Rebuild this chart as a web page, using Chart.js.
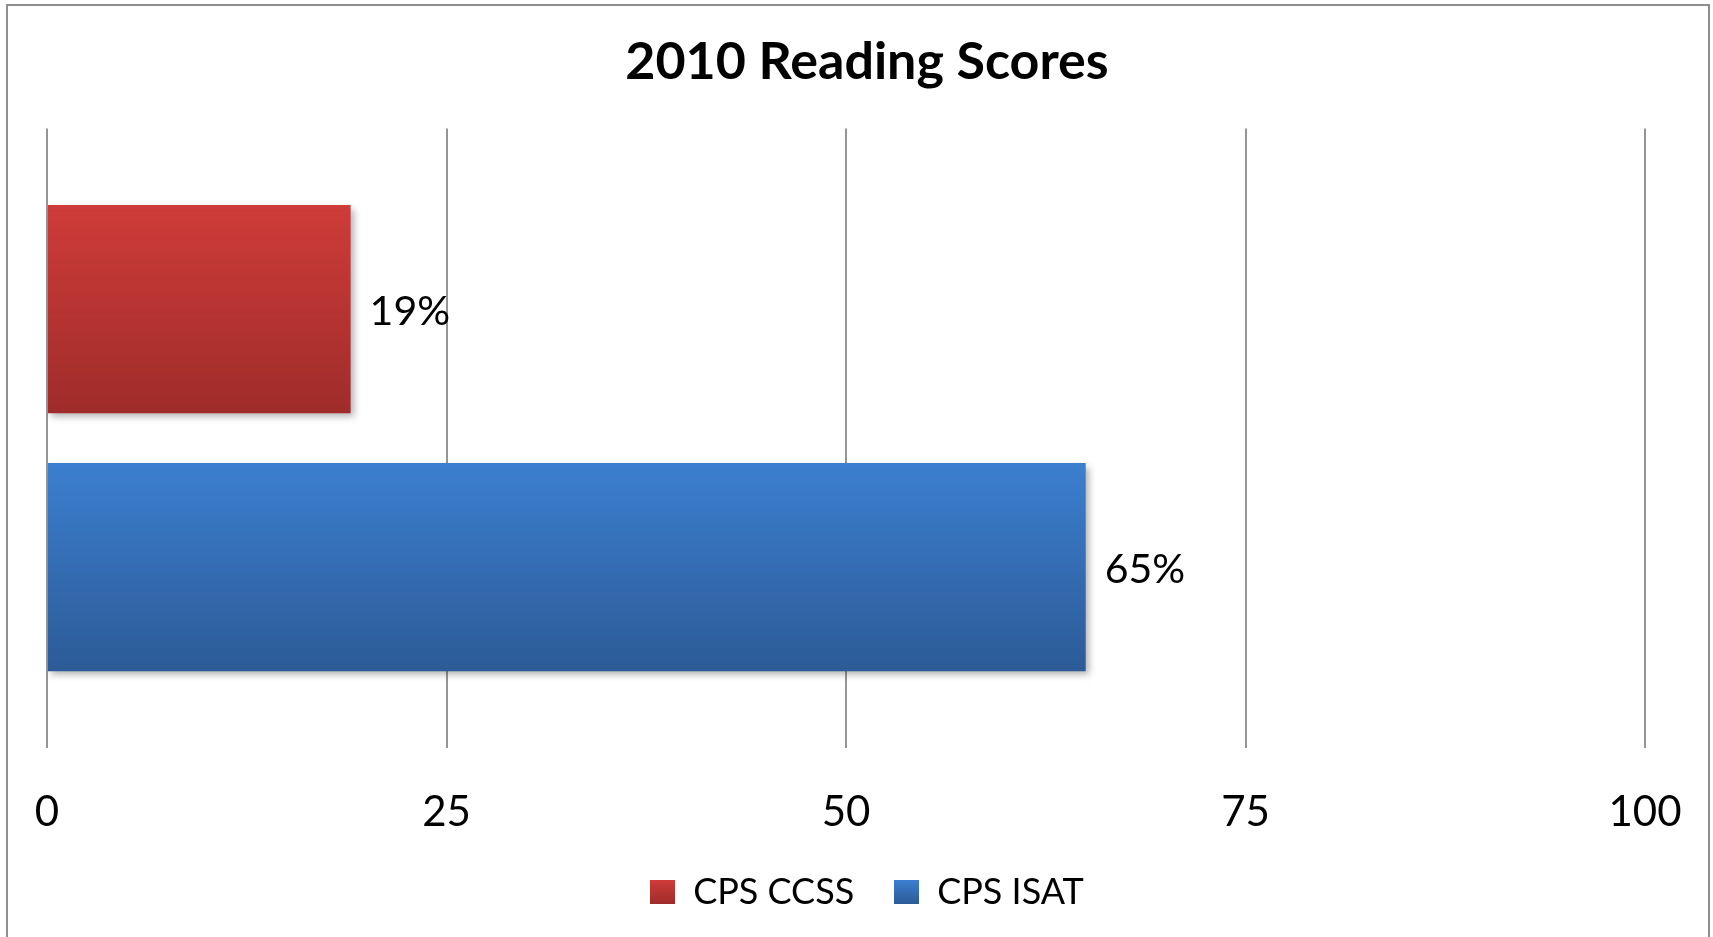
<!DOCTYPE html>
<html>
<head>
<meta charset="utf-8">
<script src="https://cdn.jsdelivr.net/npm/chart.js@4.4.1/dist/chart.umd.min.js"></script>
<style>
  html, body { margin: 0; padding: 0; background: #fff; }
  #wrap { width: 1713px; height: 937px; }
</style>
</head>
<body>
<div id="wrap"><canvas id="readingChart"></canvas></div>
<script>
const categories = ["2010"];
const seriesNames = ["CPS CCSS", "CPS ISAT"];
const seriesValues = [19, 65];
const xTicks = [0, 25, 50, 75, 100];

const topColors = ["#cf3c39", "#3c7fd0"];
const bottomColors = ["#9f2c2a", "#2c5b97"];

Chart.defaults.font.family = "Lato, 'Open Sans', sans-serif";
Chart.defaults.color = "#000";

function barGradient(ctx, i) {
  const el = ctx.element;
  if (!el || el.y == null || isNaN(el.y) || !el.height) return topColors[i];
  const g = ctx.chart.ctx.createLinearGradient(0, el.y - el.height / 2, 0, el.y + el.height / 2);
  g.addColorStop(0, topColors[i]);
  g.addColorStop(1, bottomColors[i]);
  return g;
}

// small gradient square for the legend
function makeSwatch(i) {
  const cv = document.createElement('canvas');
  cv.width = 25;
  cv.height = 24;
  const c = cv.getContext('2d');
  const g = c.createLinearGradient(0, 0, 0, 24);
  g.addColorStop(0, topColors[i]);
  g.addColorStop(1, bottomColors[i]);
  c.fillStyle = g;
  c.fillRect(0, 0, 25, 24);
  return cv;
}
const swatches = seriesNames.map((n, i) => makeSwatch(i));

// frame round the whole chart, open at the bottom like the original
const frame = {
  id: 'frame',
  beforeDraw(chart) {
    const c = chart.ctx;
    c.save();
    c.strokeStyle = '#8e8e8e';
    c.lineWidth = 2;
    c.strokeRect(7, 5, 1702, 1000);
    c.restore();
  }
};

const barShadow = {
  id: 'barShadow',
  beforeDatasetsDraw(chart) {
    const c = chart.ctx;
    c.save();
    c.shadowColor = 'rgba(0,0,0,0.3)';
    c.shadowBlur = 7;
    c.shadowOffsetX = 3;
    c.shadowOffsetY = 4;
  },
  afterDatasetsDraw(chart) {
    chart.ctx.restore();
  }
};

const valueLabels = {
  id: 'valueLabels',
  afterDatasetsDraw(chart) {
    const c = chart.ctx;
    c.save();
    c.font = "41px Lato";
    c.fillStyle = '#000';
    c.textBaseline = 'middle';
    chart.data.datasets.forEach((ds, i) => {
      chart.getDatasetMeta(i).data.forEach((el, j) => {
        c.fillText(ds.data[j] + '%', el.x + 19, el.y + 3);
      });
    });
    c.restore();
  }
};

const chart = new Chart(document.getElementById('readingChart'), {
  type: 'bar',
  data: {
    labels: categories,
    datasets: seriesNames.map((name, i) => ({
      label: name,
      data: [seriesValues[i]],
      backgroundColor: ctx => barGradient(ctx, i),
      borderWidth: 0,
      categoryPercentage: 0.833,
      barPercentage: 0.807
    }))
  },
  options: {
    indexAxis: 'y',
    responsive: true,
    maintainAspectRatio: false,
    animation: false,
    layout: { padding: { left: 47, right: 26, top: 8, bottom: 17 } },
    scales: {
      y: {
        position: 'right',
        grid: { display: false },
        border: { display: false },
        ticks: { display: false },
        afterFit: s => { s.width = 42; }
      },
      x: {
        min: 0,
        max: 100,
        afterBuildTicks: axis => { axis.ticks = xTicks.map(v => ({ value: v })); },
        afterFit: s => { s.height = 86; },
        grid: { color: '#959595', lineWidth: 2, drawTicks: false },
        border: { display: false },
        ticks: { font: { size: 42, lineHeight: 2.4 }, padding: 14, color: '#000' }
      }
    },
    plugins: {
      title: {
        display: true,
        text: '2010 Reading Scores',
        font: { size: 52, weight: 'bold' },
        color: '#000',
        padding: { top: 23, bottom: 35 }
      },
      legend: {
        position: 'bottom',
        labels: {
          usePointStyle: true,
          boxWidth: 25,
          boxHeight: 24,
          padding: 40,
          font: { size: 36 },
          color: '#000',
          generateLabels() {
            return seriesNames.map((name, i) => ({
              text: name,
              pointStyle: swatches[i],
              fillStyle: topColors[i],
              strokeStyle: 'rgba(0,0,0,0)',
              lineWidth: 0,
              datasetIndex: i
            }));
          }
        }
      },
      tooltip: { enabled: false }
    }
  },
  plugins: [frame, barShadow, valueLabels]
});
chart.update('none');
</script>
</body>
</html>
